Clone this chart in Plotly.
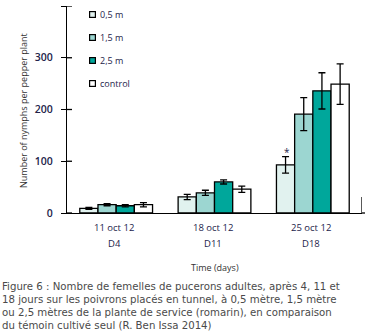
import plotly.graph_objects as go

categories = ["D4", "D11", "D18"]
dates = ["11 oct 12", "18 oct 12", "25 oct 12"]
series_names = ["0,5 m", "1,5 m", "2,5 m", "control"]
v_05 = [9, 31, 93]
v_15 = [16, 39, 191]
v_25 = [14, 60, 236]
v_ctl = [16, 46, 249]
e_05 = [2, 5, 16]
e_15 = [2, 5, 32]
e_25 = [2, 4, 35]
e_ctl = [4, 6, 39]
yticks = [0, 100, 200, 300, 400]
star_value = 124
caption_lines = [
    "Figure 6 : Nombre de femelles de pucerons adultes, après 4, 11 et",
    "18 jours sur les poivrons placés en tunnel, à 0,5 mètre, 1,5 mètre",
    "ou 2,5 mètres de la plante de service (romarin), en comparaison",
    "du témoin cultivé seul (R. Ben Issa 2014)",
]

values = [v_05, v_15, v_25, v_ctl]
errors = [e_05, e_15, e_25, e_ctl]
colors = ["#e1f2ef", "#9cd6d1", "#00a79b", "#ffffff"]

W, H = 377, 334
L, R, T, B = 67, 15, 6, 121
PW, PH = W - L - R, H - T - B
FONT = "Open Sans"
CAPFONT = "DejaVu Sans"
NAVY = "#23234a"

def px(x):
    return (x - L) / PW

def py(y):
    return (H - B - y) / PH

fig = go.Figure()
for name, vals, errs, col in zip(series_names, values, errors, colors):
    fig.add_trace(go.Bar(
        x=categories, y=vals, name=name, showlegend=False,
        marker=dict(color=col, line=dict(color="black", width=1.3)),
        error_y=dict(type="data", array=errs, visible=True, color="black",
                     thickness=1.3, width=3.5),
    ))

shapes = []
for t in yticks:
    shapes.append(dict(type="line", xref="paper", yref="y", xsizemode="pixel",
                       xanchor=0, x0=0, x1=5, y0=t, y1=t,
                       line=dict(color="black", width=1.3)))
for i in range(len(categories)):
    shapes.append(dict(type="line", xref="x", yref="y", ysizemode="pixel",
                       yanchor=0, x0=i - 0.5, x1=i - 0.5, y0=-40, y1=0,
                       line=dict(color="black", width=1.3)))
shapes.append(dict(type="line", xref="x", yref="y", ysizemode="pixel",
                   yanchor=0, x0=len(categories) - 0.5, x1=len(categories) - 0.5,
                   y0=-25, y1=16, line=dict(color="black", width=1.3)))
shapes.append(dict(type="line", xref="paper", yref="paper", xsizemode="pixel",
                   xanchor=1, x0=0, x1=3, y0=0, y1=0,
                   line=dict(color="black", width=1.3)))

ann = []
def A(**kw):
    kw.setdefault("showarrow", False)
    kw.setdefault("xanchor", "center")
    kw.setdefault("yanchor", "middle")
    ann.append(kw)

for i, (c, d) in enumerate(zip(categories, dates)):
    A(x=i, y=0, xref="x", yref="y", text=d, yshift=-14, xshift=-2,
      font=dict(family=FONT, size=9.5, color=NAVY))
    A(x=i, y=0, xref="x", yref="y", text=c, yshift=-30, xshift=-2,
      font=dict(family=FONT, size=9.5, color=NAVY))

A(x=2, y=star_value, xref="x", yref="y", text="*", xshift=-26, yshift=-3,
  font=dict(family=FONT, size=10, color=NAVY))

leg_y = [15, 37, 60, 83]
for name, col, yy in zip(series_names, colors, leg_y):
    A(x=px(92.5), y=py(yy), xref="paper", yref="paper", text=" ",
      width=5, height=5, borderpad=0, borderwidth=1.2,
      bordercolor="black", bgcolor=col, font=dict(size=1))
    A(x=px(98), y=py(yy), xref="paper", yref="paper", text=name, xanchor="left",
      font=dict(family=FONT, size=9, color=NAVY))

A(x=px(23), y=py(111), xref="paper", yref="paper",
  text="Number of nymphs per pepper plant", textangle=-90,
  font=dict(family=FONT, size=9, color="#333333"))
A(x=px(215), y=py(267), xref="paper", yref="paper", text="Time (days)",
  font=dict(family=FONT, size=9, color="#333333"))

cap_y = [286, 299.3, 312.6, 325.9]
for line, yy in zip(caption_lines, cap_y):
    A(x=px(0), y=py(yy), xref="paper", yref="paper", text=line, xanchor="left",
      font=dict(family=CAPFONT, size=10.2, color="#4a4a4a"))

fig.update_layout(
    width=W, height=H, margin=dict(l=L, r=R, t=T, b=B, pad=0),
    paper_bgcolor="white", plot_bgcolor="white",
    barmode="group", bargap=0.26, bargroupgap=0,
    shapes=shapes, annotations=ann, showlegend=False,
    xaxis=dict(showline=True, linecolor="black", linewidth=1.3, showticklabels=False,
               ticks="", showgrid=False, zeroline=False, range=[-0.5, 2.5]),
    yaxis=dict(range=[0, 400], tickvals=yticks, showline=True, linecolor="black",
               linewidth=1.3, ticks="outside", ticklen=5, tickwidth=1.3, tickcolor="black",
               showgrid=False, zeroline=False, ticklabelstandoff=6,
               tickfont=dict(family=FONT, size=10.5, color=NAVY, weight=600)),
)
fig.write_html("out.html")
